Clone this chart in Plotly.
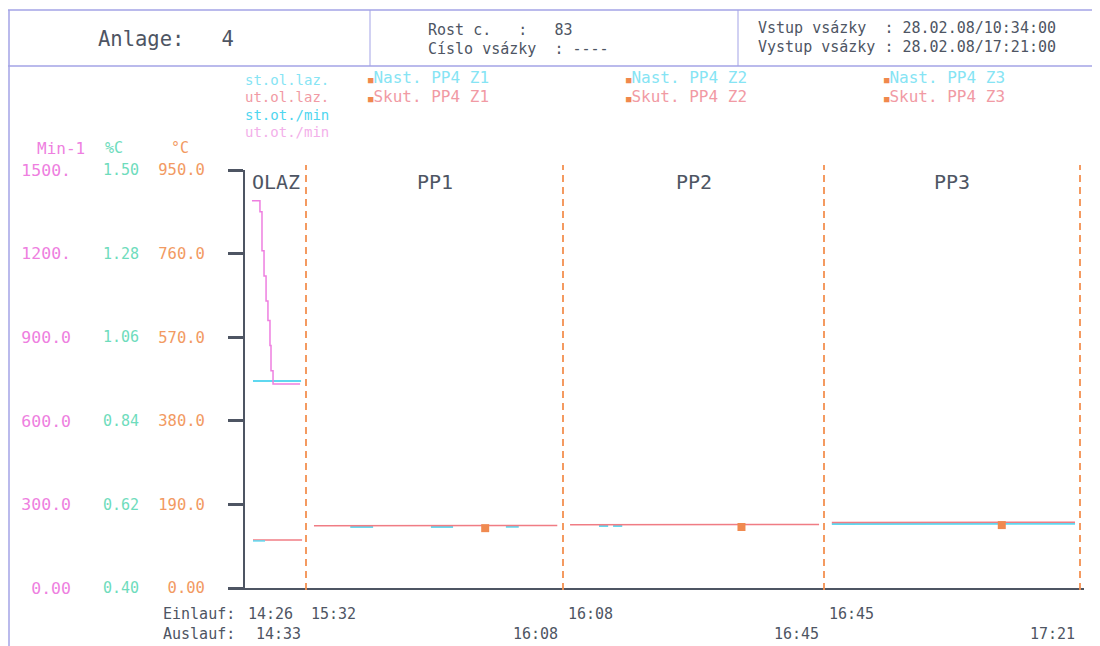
import plotly.graph_objects as go

# ---------------- data ----------------
SEGMENTS = ["OLAZ", "PP1", "PP2", "PP3"]
SEG_START = ["14:26", "15:32", "16:08", "16:45"]
SEG_END = ["14:33", "16:08", "16:45", "17:21"]
SEG_WIDTH = [61, 257, 261, 256]  # display width of each section (layout)

# OLAZ: rotation (Min-1)
rpm_act_t = ["14:26:48", "14:27:43", "14:27:57", "14:28:11", "14:28:25",
             "14:28:38", "14:28:52", "14:28:59", "14:29:13", "14:32:19"]
rpm_act_v = [1390, 1350, 1210, 1120, 1030, 960, 870, 780, 732, 732]
rpm_set_t = ["14:26:55", "14:32:26"]
rpm_set_v = [743, 743]

# OLAZ: oil bath temperature (°C)
bath_act_t = ["14:26:55", "14:32:33"]
bath_act_v = [109, 109]
bath_set_t = ["14:26:55", "14:28:18"]
bath_set_v = [107, 107]

# PP zones, actual (Skut.) temperatures (°C)
z1_act_t = ["15:33:07", "16:07:12"]
z1_act_v = [141.5, 142.3]
z2_act_t = ["16:09:00", "16:44:18"]
z2_act_v = [143.9, 144.6]
z3_act_t = ["16:46:06", "17:20:18"]
z3_act_v = [149.0, 149.6]

# PP zones, set (Nast.) temperatures (°C) - visible pieces
z1_set_t = ["15:38:12", "15:41:24", None, "15:49:30", "15:52:36", None, "16:00:00", "16:01:48"]
z1_set_v = [138.8, 138.8, None, 138.8, 138.8, None, 139.2, 139.2]
z2_set_t = ["16:13:06", "16:14:24", None, "16:15:06", "16:16:24"]
z2_set_v = [141.0, 141.0, None, 141.0, 141.0]
z3_set_t = ["16:46:06", "17:20:18"]
z3_set_v = [145.4, 146.0]

# orange position markers
mark_t = ["15:57:06", "16:33:18", "17:10:00"]
mark_v = [136.0, 138.6, 143.0]

# axis ticks
C_TICKS = [0, 190, 380, 570, 760, 950]
C_TEXT = ["0.00", "190.0", "380.0", "570.0", "760.0", "950.0"]
RPM_TICKS = [0, 300, 600, 900, 1200, 1500]
RPM_TEXT = ["0.00", "300.0", "600.0", "900.0", "1200.", "1500."]
PC_TICKS = [0.40, 0.62, 0.84, 1.06, 1.28, 1.50]
PC_TEXT = ["0.40", "0.62", "0.84", "1.06", "1.28", "1.50"]

# ---------------- helpers ----------------
def minutes(s):
    parts = [int(p) for p in s.split(":")]
    m = parts[0] * 60 + parts[1]
    if len(parts) > 2:
        m += parts[2] / 60.0
    return m

SEG_OFF = []
acc = 0
for w in SEG_WIDTH:
    SEG_OFF.append(acc)
    acc += w
TOTAL = acc
X_PAD = 4  # small room right of the last section boundary

def seg_x(i, s):
    a, b = minutes(SEG_START[i]), minutes(SEG_END[i])
    return SEG_OFF[i] + (minutes(s) - a) / (b - a) * SEG_WIDTH[i]

def to_x(s):
    if s is None:
        return None
    m = minutes(s)
    for i in range(len(SEGMENTS)):
        if minutes(SEG_START[i]) <= m <= minutes(SEG_END[i]):
            return seg_x(i, s)
    return None

def xs(lst):
    return [to_x(s) for s in lst]

# page is drawn with an 8px body offset
OFF = 8.0
PW, PH = 1076.0, 418.0
def px(x):
    return (x - OFF) / PW
def py(y):
    return (588.0 - y) / PH

FONT = "DejaVu Sans Mono"
DARK = "#4e5563"
PINK = "#ee7fe0"
CYAN = "#5fd8f0"
RED = "#f07c84"
ORANGE = "#f29a62"
DASH = "#f39050"
GREEN = "#6edcbc"
FRAME = "#a3a3e6"

fig = go.Figure()

fig.add_trace(go.Scatter(x=xs(rpm_set_t), y=rpm_set_v, yaxis="y2", mode="lines",
                         line=dict(color=CYAN, width=2), name="Nast.ot./min"))
fig.add_trace(go.Scatter(x=xs(rpm_act_t), y=rpm_act_v, yaxis="y2", mode="lines",
                         line=dict(color=PINK, width=1.5, shape="hv"), name="Skut.ot./min"))
fig.add_trace(go.Scatter(x=xs(bath_act_t), y=bath_act_v, mode="lines",
                         line=dict(color=RED, width=1.5), name="Skut.ol.laz."))
fig.add_trace(go.Scatter(x=xs(bath_set_t), y=bath_set_v, mode="lines",
                         line=dict(color=CYAN, width=1.5), name="Nast.ol.laz."))
for t, v in [(z1_set_t, z1_set_v), (z2_set_t, z2_set_v), (z3_set_t, z3_set_v)]:
    fig.add_trace(go.Scatter(x=xs(t), y=v, mode="lines", connectgaps=False,
                             line=dict(color=CYAN, width=2)))
for t, v in [(z1_act_t, z1_act_v), (z2_act_t, z2_act_v), (z3_act_t, z3_act_v)]:
    fig.add_trace(go.Scatter(x=xs(t), y=v, mode="lines",
                             line=dict(color=RED, width=1.5)))
fig.add_trace(go.Scatter(x=xs(mark_t), y=mark_v, mode="markers",
                         marker=dict(symbol="square", size=8, color="#f08a50",
                                     line=dict(width=0))))
# keep %C axis alive
fig.add_trace(go.Scatter(x=[None], y=[None], yaxis="y3", mode="lines", showlegend=False))

shapes = []
# section boundaries
for i in range(len(SEGMENTS)):
    xb = SEG_OFF[i] + SEG_WIDTH[i]
    shapes.append(dict(type="line", xref="x", yref="paper", x0=xb, x1=xb,
                       y0=-0.005, y1=py(165), line=dict(color=DASH, width=1.8, dash="7px,5px")))
# header frame
shapes += [
    dict(type="line", xref="paper", yref="paper", x0=px(8), x1=px(1100), y0=py(10), y1=py(10),
         line=dict(color=FRAME, width=1.5)),
    dict(type="line", xref="paper", yref="paper", x0=px(8), x1=px(1100), y0=py(66), y1=py(66),
         line=dict(color=FRAME, width=1.5)),
    dict(type="line", xref="paper", yref="paper", x0=px(9), x1=px(9), y0=py(10), y1=py(646),
         line=dict(color=FRAME, width=1.5)),
    dict(type="line", xref="paper", yref="paper", x0=px(370), x1=px(370), y0=py(10), y1=py(66),
         line=dict(color=FRAME, width=1)),
    dict(type="line", xref="paper", yref="paper", x0=px(738), x1=px(738), y0=py(10), y1=py(66),
         line=dict(color=FRAME, width=1)),
]

NB = "\u00a0"
def sp(s):
    return s.replace(" ", NB)

ann = []
def add_text(text, x, y, color=DARK, size=16, xanchor="left", xref="paper", family=FONT):
    ann.append(dict(text=sp(text), x=x, y=y, xref=xref, yref="paper", xanchor=xanchor,
                    yanchor="middle", showarrow=False, font=dict(family=family, size=size, color=color)))

# header
add_text("Anlage:   4", px(96), py(39), size=20.5)
add_text("Rost c.   :   83", px(426), py(30), size=15)
add_text("Císlo vsázky  : ----", px(426), py(49), size=15)
add_text("Vstup vsázky  : 28.02.08/10:34:00", px(756), py(28), size=15)
add_text("Vystup vsázky : 28.02.08/17:21:00", px(756), py(47), size=15)

# legend (clipped left column as printed)
add_text("st.ol.laz.", px(243), py(80), color="#86e4f4", size=14)
add_text("ut.ol.laz.", px(243), py(97), color="#f19aa4", size=14)
add_text("st.ot./min", px(243), py(115), color="#4fd6ef", size=14)
add_text("ut.ot./min", px(243), py(132), color="#f3b0ea", size=14)
for i, xx in enumerate([366, 624, 882]):
    z = "Z%d" % (i + 1)
    ann.append(dict(text="<span style='color:#f0884c;font-size:9px'>■</span>" + sp("Nast. PP4 " + z),
                    x=px(xx), y=py(78), xref="paper", yref="paper", xanchor="left", yanchor="middle",
                    showarrow=False, font=dict(family=FONT, size=16, color="#86e4f4")))
    ann.append(dict(text="<span style='color:#f0884c;font-size:9px'>■</span>" + sp("Skut. PP4 " + z),
                    x=px(xx), y=py(96), xref="paper", yref="paper", xanchor="left", yanchor="middle",
                    showarrow=False, font=dict(family=FONT, size=16, color="#f19aa4")))

# unit labels
add_text("Min-1", px(61), py(148), color=PINK, size=16, xanchor="center")
add_text("%C", px(114), py(148), color=GREEN, size=15, xanchor="center")
add_text("°C", px(180), py(148), color=ORANGE, size=15, xanchor="center")

# section titles
for i, name in enumerate(SEGMENTS):
    add_text(name, SEG_OFF[i] + SEG_WIDTH[i] / 2, py(182), size=20, xanchor="center", xref="x")

# Einlauf / Auslauf times
add_text("Einlauf:", px(161), py(614), size=15)
add_text("Auslauf:", px(161), py(634), size=15)
for i in range(len(SEGMENTS)):
    ann.append(dict(text=SEG_START[i], x=seg_x(i, SEG_START[i]), y=py(614), xref="x", yref="paper",
                    xanchor="left", yanchor="middle", xshift=1 if i == 0 else 3, showarrow=False,
                    font=dict(family=FONT, size=15, color=DARK)))
    ann.append(dict(text=SEG_END[i], x=seg_x(i, SEG_END[i]), y=py(634), xref="x", yref="paper",
                    xanchor="right", yanchor="middle", xshift=-3, showarrow=False,
                    font=dict(family=FONT, size=15, color=DARK)))

fig.update_layout(
    width=1100, height=646,
    margin=dict(l=0, r=24, t=162, b=66),
    paper_bgcolor="white", plot_bgcolor="white",
    showlegend=False,
    font=dict(family=FONT, color=DARK),
    xaxis=dict(domain=[px(245), 1], range=[0, TOTAL + X_PAD], showgrid=False, zeroline=False,
               showticklabels=False, ticks="", showline=True, linecolor=DARK, linewidth=2),
    yaxis=dict(range=[0, 950], tickvals=C_TICKS, ticktext=C_TEXT, showgrid=False, zeroline=False,
               showline=True, linecolor=DARK, linewidth=2, ticks="outside", ticklen=15,
               tickwidth=3, tickcolor=DARK, ticklabelstandoff=20,
               tickfont=dict(family=FONT, size=15.5, color=ORANGE)),
    yaxis2=dict(range=[0, 1500], tickvals=RPM_TICKS, ticktext=RPM_TEXT, overlaying="y",
                anchor="free", position=px(71), side="left", showgrid=False, zeroline=False,
                showline=False, ticks="", tickfont=dict(family=FONT, size=16.5, color=PINK)),
    yaxis3=dict(range=[0.40, 1.50], tickvals=PC_TICKS, ticktext=PC_TEXT, overlaying="y",
                anchor="free", position=px(139), side="left", showgrid=False, zeroline=False,
                showline=False, ticks="", tickfont=dict(family=FONT, size=15, color=GREEN)),
    shapes=shapes,
    annotations=ann,
)

fig.write_html("out.html")
